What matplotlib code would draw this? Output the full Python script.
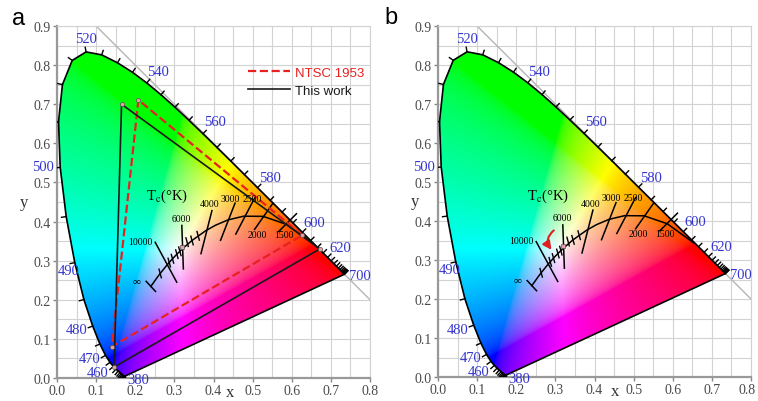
import numpy as np
import matplotlib
matplotlib.use('Agg')
import matplotlib.pyplot as plt
import matplotlib.transforms as mtransforms
from matplotlib.patches import Polygon, FancyArrowPatch

plt.rcParams['font.family'] = ['Liberation Serif', 'DejaVu Serif']
plt.rcParams['mathtext.fontset'] = 'stix'

# CIE 1931 spectral locus, 380-700 nm every 5 nm
wl = list(range(380, 705, 5))
loc_x = [0.1741, 0.1740, 0.1738, 0.1736, 0.1733, 0.1730, 0.1726, 0.1721, 0.1714, 0.1703,
         0.1689, 0.1669, 0.1644, 0.1611, 0.1566, 0.1510, 0.1440, 0.1355, 0.1241, 0.1096,
         0.0913, 0.0687, 0.0454, 0.0235, 0.0082, 0.0039, 0.0139, 0.0389, 0.0743, 0.1142,
         0.1547, 0.1929, 0.2296, 0.2658, 0.3016, 0.3373, 0.3731, 0.4087, 0.4441, 0.4788,
         0.5125, 0.5448, 0.5752, 0.6029, 0.6270, 0.6482, 0.6658, 0.6801, 0.6915, 0.7006,
         0.7079, 0.7140, 0.7190, 0.7230, 0.7260, 0.7283, 0.7300, 0.7311, 0.7320, 0.7327,
         0.7334, 0.7340, 0.7344, 0.7346, 0.7347]
loc_y = [0.0050, 0.0050, 0.0049, 0.0049, 0.0048, 0.0048, 0.0048, 0.0048, 0.0051, 0.0058,
         0.0069, 0.0086, 0.0109, 0.0138, 0.0177, 0.0227, 0.0297, 0.0399, 0.0578, 0.0868,
         0.1327, 0.2007, 0.2950, 0.4127, 0.5384, 0.6548, 0.7502, 0.8120, 0.8338, 0.8262,
         0.8059, 0.7816, 0.7543, 0.7243, 0.6923, 0.6589, 0.6245, 0.5896, 0.5547, 0.5202,
         0.4866, 0.4544, 0.4242, 0.3965, 0.3725, 0.3514, 0.3340, 0.3197, 0.3083, 0.2993,
         0.2920, 0.2859, 0.2809, 0.2770, 0.2740, 0.2717, 0.2700, 0.2689, 0.2680, 0.2673,
         0.2666, 0.2660, 0.2656, 0.2654, 0.2653]

# wavelength labels (blue)
wl_labels = ['380', '460', '470', '480', '490', '500', '520', '540', '560', '580', '600', '620', '700']
wl_label_x = [0.207, 0.105, 0.084, 0.051, 0.030, -0.036, 0.074, 0.259, 0.404, 0.545, 0.658, 0.724, 0.775]
wl_label_y = [-0.003, 0.013, 0.051, 0.123, 0.276, 0.540, 0.867, 0.783, 0.655, 0.512, 0.398, 0.334, 0.263]

# Planckian locus, from infinity down to 1000 K
planck_x = [0.2399, 0.2565, 0.2637, 0.2807, 0.2952, 0.3064, 0.3221, 0.3451, 0.3805,
            0.4053, 0.4369, 0.4770, 0.5267, 0.5857, 0.6528]
planck_y = [0.2342, 0.2577, 0.2673, 0.2883, 0.3048, 0.3166, 0.3318, 0.3516, 0.3768,
            0.3907, 0.4041, 0.4137, 0.4133, 0.3931, 0.3444]

# small ticks on the Planckian locus
ptick_x = [0.2637, 0.2869, 0.2952, 0.3064, 0.3140, 0.3325, 0.3451, 0.3608]
ptick_y = [0.2673, 0.2952, 0.3048, 0.3166, 0.3240, 0.3474, 0.3516, 0.3635]

# isotherms
iso_names = ['10000', '6000', '4000', '3000', '2500', '2000', '1500']
iso_x0 = [0.251, 0.319, 0.396, 0.455, 0.505, 0.552, 0.612]
iso_y0 = [0.347, 0.390, 0.428, 0.447, 0.460, 0.447, 0.420]
iso_x1 = [0.306, 0.323, 0.368, 0.418, 0.457, 0.505, 0.567]
iso_y1 = [0.245, 0.279, 0.318, 0.352, 0.368, 0.380, 0.375]
iso_label_x = [0.212, 0.319, 0.391, 0.442, 0.498, 0.511, 0.579]
iso_label_y = [0.349, 0.409, 0.445, 0.460, 0.460, 0.368, 0.368]

# gamut triangles (R, G, B)
ntsc_x = [0.627, 0.208, 0.140]
ntsc_y = [0.365, 0.711, 0.080]
work_x = [0.672, 0.165, 0.146]
work_y = [0.330, 0.700, 0.028]

# colour fill of the chromaticity diagram
gx = np.linspace(0, 0.8, 480)
gy = np.linspace(0.002, 0.9, 540)
GX, GY = np.meshgrid(gx, gy)
xyz = np.stack([GX / GY, np.ones_like(GX), (1 - GX - GY) / GY], -1)
M = np.array([[3.2406, -1.5372, -0.4986],
              [-0.9689, 1.8758, 0.0415],
              [0.0557, -0.2040, 1.0570]])
rgb = np.clip(xyz @ M.T, 0, None)
rgb = rgb / rgb.max(axis=-1, keepdims=True)
rgb = np.where(rgb <= 0.0031308, 12.92 * rgb, 1.055 * rgb ** (1 / 2.4) - 0.055)
rgb = np.clip(rgb, 0, 1)

blue = '#3434d0'


def draw_panel(ax, with_triangles, ylab_x, xlab_x):
    ax.set_xlim(0, 0.8)
    ax.set_ylim(0, 0.9)
    ax.set_xticks(np.arange(0, 0.81, 0.1))
    ax.set_yticks(np.arange(0, 0.91, 0.1))
    ax.set_xticks(np.arange(0, 0.81, 0.05), minor=True)
    ax.set_yticks(np.arange(0, 0.91, 0.05), minor=True)
    ax.set_xticklabels([f'{v:.1f}' for v in np.arange(0, 0.81, 0.1)])
    ax.set_yticklabels([f'{v:.1f}' for v in np.arange(0, 0.91, 0.1)])
    ax.tick_params(which='major', length=3, width=1, pad=1.5, color='#888888',
                   labelsize=10, labelcolor='#4a4a4a')
    ax.tick_params(which='minor', length=0)
    ax.grid(True, which='both', color='#d2d2d2', lw=0.8)
    ax.set_axisbelow(True)
    for s in ['left', 'bottom']:
        ax.spines[s].set_color('#999999')
        ax.spines[s].set_linewidth(1.6)
    for s in ['top', 'right']:
        ax.spines[s].set_color('#d2d2d2')
        ax.spines[s].set_linewidth(0.8)

    # x + y = 1 guide line
    ax.plot([0.1, 0.8], [0.9, 0.2], color='#b5b5b5', lw=1, zorder=1.5)

    im = ax.imshow(rgb, extent=[0, 0.8, 0.002, 0.9], origin='lower', aspect='auto',
                   interpolation='bilinear', zorder=2)
    poly = Polygon(np.column_stack([loc_x, loc_y]), closed=True, transform=ax.transData)
    im.set_clip_path(poly)
    ax.plot(loc_x + [loc_x[0]], loc_y + [loc_y[0]], color='black', lw=1.2, zorder=3)

    # wavelength ticks
    lx = np.array(loc_x)
    ly = np.array(loc_y)
    dx = np.gradient(lx)
    dy = np.gradient(ly)
    n = np.hypot(dx, dy)
    n[n == 0] = 1
    nx, ny = -dy / n, dx / n
    for i in range(len(lx)):
        if i < 6:
            nx[i], ny[i] = -0.3, -0.95
        ax.plot([lx[i], lx[i] + 0.012 * nx[i]], [ly[i], ly[i] + 0.012 * ny[i]],
                color='black', lw=1, zorder=3)

    for t, x, y in zip(wl_labels, wl_label_x, wl_label_y):
        ax.text(x, y, t, color=blue, fontsize=10.5, ha='center', va='center',
                zorder=6, clip_on=False)

    # Planckian locus
    ax.plot(planck_x, planck_y, color='black', lw=1.1, zorder=4)
    ax.plot([planck_x[0] - 0.012, planck_x[0] + 0.012], [planck_y[0] + 0.013, planck_y[0] - 0.013],
            color='black', lw=1.1, zorder=4)
    for x, y in zip(ptick_x, ptick_y):
        ax.plot([x - 0.003, x + 0.003], [y + 0.011, y - 0.011], color='black', lw=1, zorder=4)
    for x0, y0, x1, y1 in zip(iso_x0, iso_y0, iso_x1, iso_y1):
        ax.plot([x0, x1], [y0, y1], color='black', lw=1.1, zorder=4)
    for t, x, y in zip(iso_names, iso_label_x, iso_label_y):
        ax.text(x, y, t, fontsize=7, ha='center', va='center', zorder=6)
    ax.text(0.204, 0.249, '\u221e', fontsize=8, ha='center', va='center', zorder=6)
    ax.text(0.280, 0.466, r'T$_{\rm c}$(°K)', fontsize=10.5, ha='center', va='center', zorder=6)
    ax.plot([0.320], [0.335], 's', ms=3, mfc='#e8a0b0', mec='#555555', mew=0.5, zorder=5)

    if with_triangles:
        ax.plot(ntsc_x + [ntsc_x[0]], ntsc_y + [ntsc_y[0]], '--', color='#e82020',
                lw=1.6, zorder=5, label='NTSC 1953')
        ax.plot(work_x + [work_x[0]], work_y + [work_y[0]], '-', color='#1a1a1a',
                lw=1.2, zorder=5, label='This work')
        ax.plot(ntsc_x + work_x, ntsc_y + work_y, 'o', ms=3, mfc='#e8a0a0', mec='#555555',
                mew=0.5, zorder=6)
        leg = ax.legend(loc='upper left', bbox_to_anchor=(0.488, 0.797),
                        bbox_transform=ax.transData, frameon=False, borderpad=0,
                        borderaxespad=0, handlelength=3.2, handletextpad=0.4,
                        labelspacing=0.45, labelcolor='linecolor',
                        prop={'family': 'Liberation Sans', 'size': 9.5})
        leg.set_zorder(7)

    ax.text(ylab_x, 0.5, 'y', transform=ax.transAxes, fontsize=12, ha='center',
            va='center', color='#333333')
    ax.text(xlab_x, -0.040, 'x', transform=ax.transAxes, fontsize=12, ha='center',
            va='center', color='#333333')


fig = plt.figure(figsize=(7.58, 4.02), dpi=100)
ax1 = fig.add_axes([57 / 758, 23 / 402, 313 / 758, 352 / 402])
ax2 = fig.add_axes([438 / 758, 24 / 402, 313 / 758, 351 / 402])

draw_panel(ax1, True, -0.105, 0.553)
draw_panel(ax2, False, -0.073, 0.565)

# keep the last x tick label of panel b inside the figure
last = ax2.get_xticklabels()[-1]
last.set_transform(last.get_transform() +
                   mtransforms.ScaledTranslation(-3 / 72, 0, fig.dpi_scale_trans))

# red arrow in panel b
arr = FancyArrowPatch((0.296, 0.376), (0.290, 0.326), connectionstyle='arc3,rad=0.45',
                      arrowstyle='-|>,head_length=0.5,head_width=0.25', mutation_scale=10,
                      shrinkA=0, shrinkB=0, color='#e02020', lw=1.5, zorder=7)
ax2.add_patch(arr)

fig.text(19 / 758, 1 - 19 / 402, 'a', fontsize=17, family='Liberation Sans',
         ha='center', va='center')
fig.text(391 / 758, 1 - 18 / 402, 'b', fontsize=17, family='Liberation Sans',
         ha='center', va='center')

fig.savefig('out.png', dpi=100)
